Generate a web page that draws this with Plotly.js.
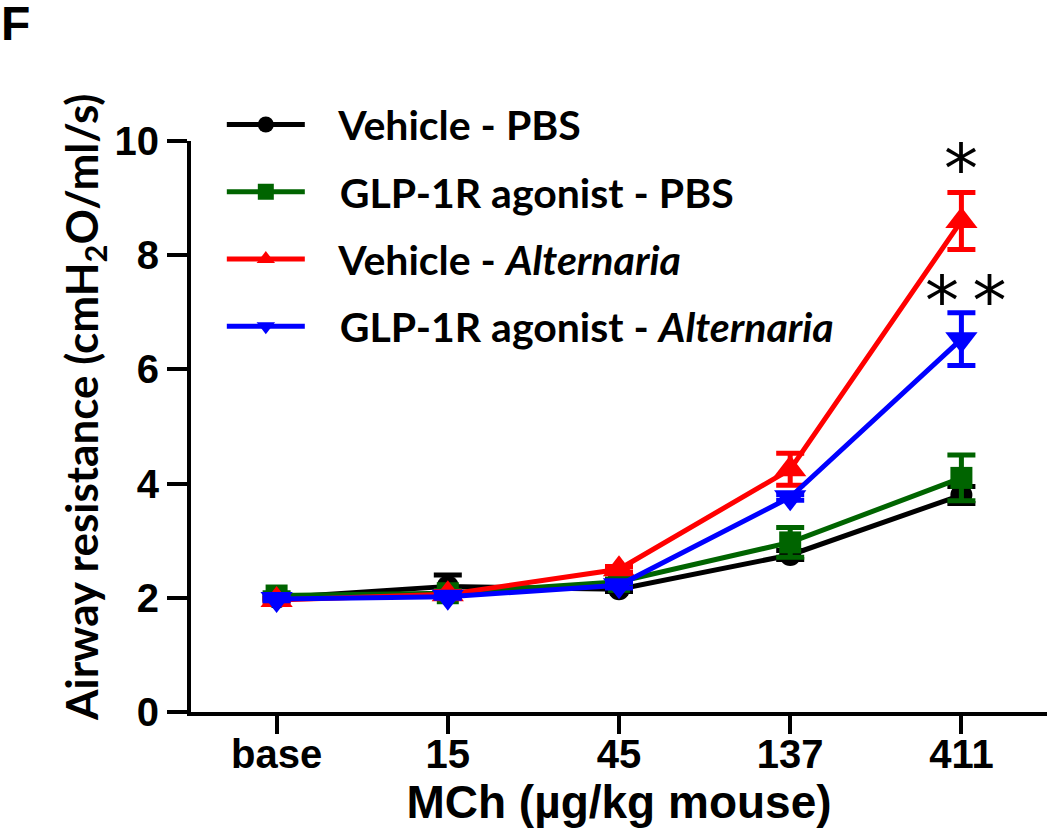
<!DOCTYPE html>
<html>
<head>
<meta charset="utf-8">
<script src="https://cdn.plot.ly/plotly-3.0.1.min.js"></script>
<style>html,body{margin:0;padding:0;background:#fff;}#chart{width:1050px;height:832px;}</style>
</head>
<body>
<div id="chart"></div>
<script>
// Data
const doses = ['base', '15', '45', '137', '411'];
const seriesNames = ['Vehicle - PBS', 'GLP-1R agonist - PBS', 'Vehicle - <i>Alternaria</i>', 'GLP-1R agonist - <i>Alternaria</i>'];
const vehiclePBS = [2.00, 2.20, 2.15, 2.75, 3.80];
const vehiclePBSErr = [0.04, 0.20, 0.04, 0.08, 0.15];
const agonistPBS = [2.04, 2.08, 2.28, 2.97, 4.10];
const agonistPBSErr = [0.05, 0.05, 0.05, 0.26, 0.40];
const vehicleAlt = [1.96, 2.06, 2.50, 4.25, 8.60];
const vehicleAltErr = [0.03, 0.05, 0.05, 0.28, 0.50];
const agonistAlt = [1.98, 2.02, 2.22, 3.76, 6.53];
const agonistAltErr = [0.03, 0.03, 0.05, 0.05, 0.46];
const yTicks = [0, 2, 4, 6, 8, 10];
const sigLabels = ['*', '*\u2009*'];
const yTitle = 'Airway resistance (cmH<sub>2</sub>O/ml/s)';
const xTitle = 'MCh (µg/kg mouse)';
const panelLabel = 'F';

const colors = ['#000000', '#006400', '#ff0000', '#0000ff'];
const symbols = ['circle', 'square', 'triangle-up', 'triangle-down'];
const sizes = [22, 22, 28, 28];
const values = [vehiclePBS, agonistPBS, vehicleAlt, agonistAlt];
const errs = [vehiclePBSErr, agonistPBSErr, vehicleAltErr, agonistAltErr];
const pad = '\u00A0\u00A0\u00A0';

const traces = values.map((v, i) => ({
  type: 'scatter',
  mode: 'lines+markers',
  x: doses,
  y: v,
  name: pad + seriesNames[i],
  legendgroup: 'g' + i,
  line: {color: colors[i], width: 5},
  marker: {color: colors[i], symbol: symbols[i], size: sizes[i]},
  error_y: {type: 'data', array: errs[i], visible: true, color: colors[i], thickness: 5, width: 14},
  cliponaxis: false
}));

const W = 1050, H = 832;
const M = {l: 191, r: 3, t: 141, b: 120};
const pw = W - M.l - M.r, ph = H - M.t - M.b;
const px2x = p => (p - M.l) / pw;
const px2y = p => (H - M.b - p) / ph;

const lastIdx = doses.indexOf('411');
const annFont = {family: 'DejaVu Sans, sans-serif', size: 68, color: '#000'};
const annotations = [
  {x: lastIdx, y: vehicleAlt[lastIdx] + vehicleAltErr[lastIdx], xref: 'x', yref: 'y', text: sigLabels[0],
   showarrow: false, yanchor: 'bottom', yshift: -18, font: annFont},
  {x: lastIdx, y: agonistAlt[lastIdx] + agonistAltErr[lastIdx], xref: 'x', yref: 'y', text: sigLabels[1],
   showarrow: false, yanchor: 'bottom', yshift: -29, xshift: 5, font: annFont},
  {x: px2x(0), y: px2y(-4), xref: 'paper', yref: 'paper', xanchor: 'left', yanchor: 'top', text: panelLabel,
   showarrow: false, borderpad: 0,
   font: {family: 'Liberation Sans, Arial, sans-serif', size: 48, color: '#000', weight: 700}},
  {x: px2x(84), y: px2y(408), xref: 'paper', yref: 'paper', xanchor: 'center', yanchor: 'middle',
   text: yTitle, textangle: -90, showarrow: false,
   font: {family: 'Lato, sans-serif', size: 44, color: '#000', weight: 700}}
];

const layout = {
  width: W, height: H,
  margin: M,
  paper_bgcolor: '#fff', plot_bgcolor: '#fff',
  showlegend: true,
  legend: {
    x: 0.036, y: 1.087, xanchor: 'left', yanchor: 'top',
    font: {family: 'Lato, sans-serif', size: 41, color: '#000', weight: 700},
    itemwidth: 78, tracegroupgap: 11, bgcolor: 'rgba(0,0,0,0)', borderwidth: 0
  },
  xaxis: {
    type: 'category', range: [-0.5, 4.5],
    showline: true, linecolor: '#000', linewidth: 4,
    ticks: 'outside', ticklen: 18, tickwidth: 4, tickcolor: '#000',
    ticklabelstandoff: -14,
    showgrid: false, zeroline: false,
    tickfont: {family: 'Liberation Sans Narrow, Arial Narrow, sans-serif', size: 40, color: '#000', weight: 700},
    title: {text: xTitle, standoff: 6,
      font: {family: 'Liberation Sans Narrow, Arial Narrow, sans-serif', size: 46, color: '#000', weight: 700}}
  },
  yaxis: {
    range: [0, 10], tickvals: yTicks, ticktext: yTicks.map(String),
    showline: true, linecolor: '#000', linewidth: 4,
    ticks: 'outside', ticklen: 20, tickwidth: 4, tickcolor: '#000',
    showgrid: false, zeroline: false,
    tickfont: {family: 'Liberation Sans Narrow, Arial Narrow, sans-serif', size: 40, color: '#000', weight: 700}
  },
  annotations: annotations
};

Plotly.newPlot('chart', traces, layout, {displayModeBar: false, staticPlot: true});
</script>
</body>
</html>
